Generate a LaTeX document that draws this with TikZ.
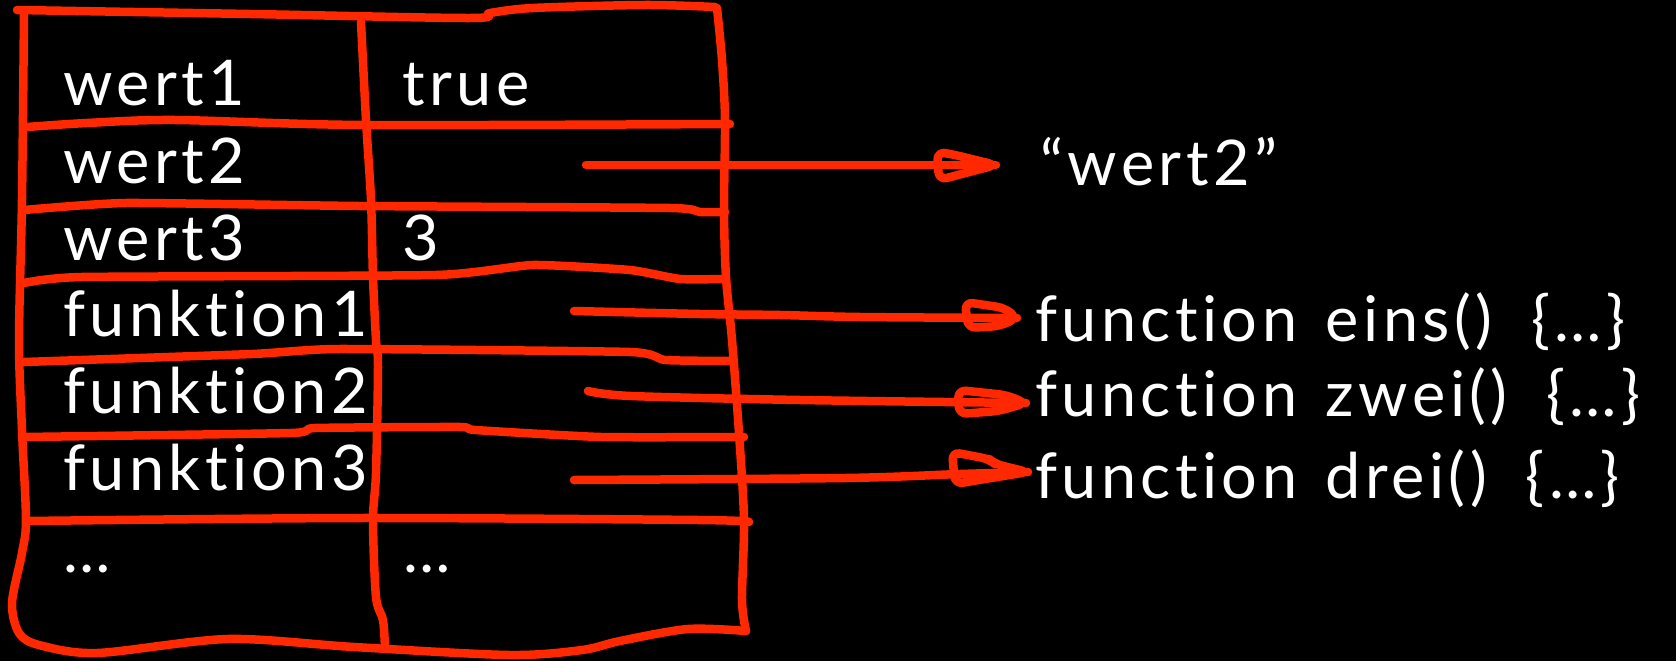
\documentclass[tikz,border=0pt]{standalone}
\usepackage{fontspec}
\setmainfont{Lato}[Ligatures={NoCommon}, LetterSpace=7, WordSpace=1.4]
\definecolor{hred}{RGB}{255,40,0}
\begin{document}
\begin{tikzpicture}[x=1pt,y=-1pt,
  redline/.style={draw=hred, line width=8.5pt, line cap=round, line join=round},
  headline/.style={redline, rounded corners=8pt},
  lbl/.style={text=white, font=\fontsize{63}{64}\selectfont, anchor=base west, inner sep=0pt}]
\fill[black] (0,0) rectangle (1676,661);
\useasboundingbox (0,0) rectangle (1676,661);
% outer frame
\draw[redline] plot[smooth, tension=0.5] coordinates {(17,10) (250,14) (470,18) (490,13) (533,8) (645,5) (715,7)};
\draw[redline] plot[smooth, tension=0.5] coordinates {(717,8) (722,60) (725,120) (724,210) (726,277) (732,340) (739,433) (744,520) (742,600) (746,631)};
\draw[redline] plot[smooth, tension=0.5] coordinates {(24,13) (22,200) (19,340) (22,430) (26,520) (22,553) (12,603) (19,633) (39,645) (97,653) (228,639) (354,647) (509,655) (582,650) (620,641) (688,629) (746,631)};
% column divider
\draw[redline] plot[smooth, tension=0.5] coordinates {(361,22) (366,120) (371,200) (373,277) (376,340) (378,367) (376,473) (373,520) (376,597) (383,620) (385,648)};
% row lines
\draw[redline] plot[smooth, tension=0.5] coordinates {(27,127) (87,123) (175,120) (364,125) (730,124)};
\draw[redline] plot[smooth, tension=0.3] coordinates {(24,210) (126,203) (359,206) (670,208) (700,212) (725,212)};
\draw[redline] plot[smooth, tension=0.3] coordinates {(24,283) (82,277) (436,275) (533,265) (630,270) (680,279) (725,279)};
\draw[redline] plot[smooth, tension=0.3] coordinates {(24,362) (252,354) (339,349) (630,352) (665,360) (730,361)};
\draw[redline] plot[smooth, tension=0.3] coordinates {(24,437) (291,433) (315,428) (460,427) (475,430) (601,437) (744,437)};
\draw[redline] plot[smooth, tension=0.5] coordinates {(27,521) (359,518) (698,520) (749,522)};
% table texts
\node[lbl] (k1) at (63,106) {wert1};
\node[lbl] (v1) at (402,106) {true};
\node[lbl] (k2) at (63,183) {wert2};
\node[lbl] (k3) at (63,260) {wert3};
\node[lbl] (v3) at (402,260) {3};
\node[lbl] (k4) at (63,336) {funktion1};
\node[lbl] (k5) at (63,413) {funktion2};
\node[lbl] (k6) at (63,490) {funktion3};
\node[lbl] (k7) at (63,572) {…};
\node[lbl] (v7) at (403,572) {…};
% targets
\node[lbl] (t1) at (1040,185) {“wert2”};
\node[lbl] (t2) at (1035,341) {function eins()\hspace{10pt} \{…\}};
\node[lbl] (t3) at (1035,416) {function zwei()\hspace{10pt} \{…\}};
\node[lbl] (t4) at (1035,498) {function drei()\hspace{10pt} \{…\}};
% arrow anchors
\coordinate (s1) at (586,165); \coordinate (e1) at (996,165);
\coordinate (s2) at (574,311); \coordinate (e2) at (1017,318);
\coordinate (s3) at (588,391); \coordinate (e3) at (1026,403);
\coordinate (s4) at (574,480); \coordinate (e4) at (1028,472);
% arrows
\draw[redline] (s1) -- (e1);
\draw[redline] plot[smooth, tension=0.5] coordinates {(s2) (700,314) (780,315) (860,317) (e2)};
\draw[redline] plot[smooth, tension=0.5] coordinates {(s3) (631,396) (800,400) (e3)};
\draw[redline] plot[smooth, tension=0.5] coordinates {(s4) (845,478) (960,474) (e4)};
% hand-drawn heads
\draw[headline] (e1) -- ++(-45,-11) -- ++(-14,-2) -- ++(2,28) -- cycle;
\draw[headline] (e2) -- ++(-12,-10) -- ++(-40,-6) -- ++(3,26) -- ++(32,-2) -- cycle;
\draw[headline] (e3) -- ++(-20,-8) -- ++(-48,-5) -- ++(1,24) -- ++(40,-3) -- cycle;
\draw[headline] (e4) -- ++(-33,-8) -- ++(-6,-5) -- ++(-37,-7) -- ++(3,32) -- ++(30,-5) -- cycle;
\end{tikzpicture}
\end{document}
